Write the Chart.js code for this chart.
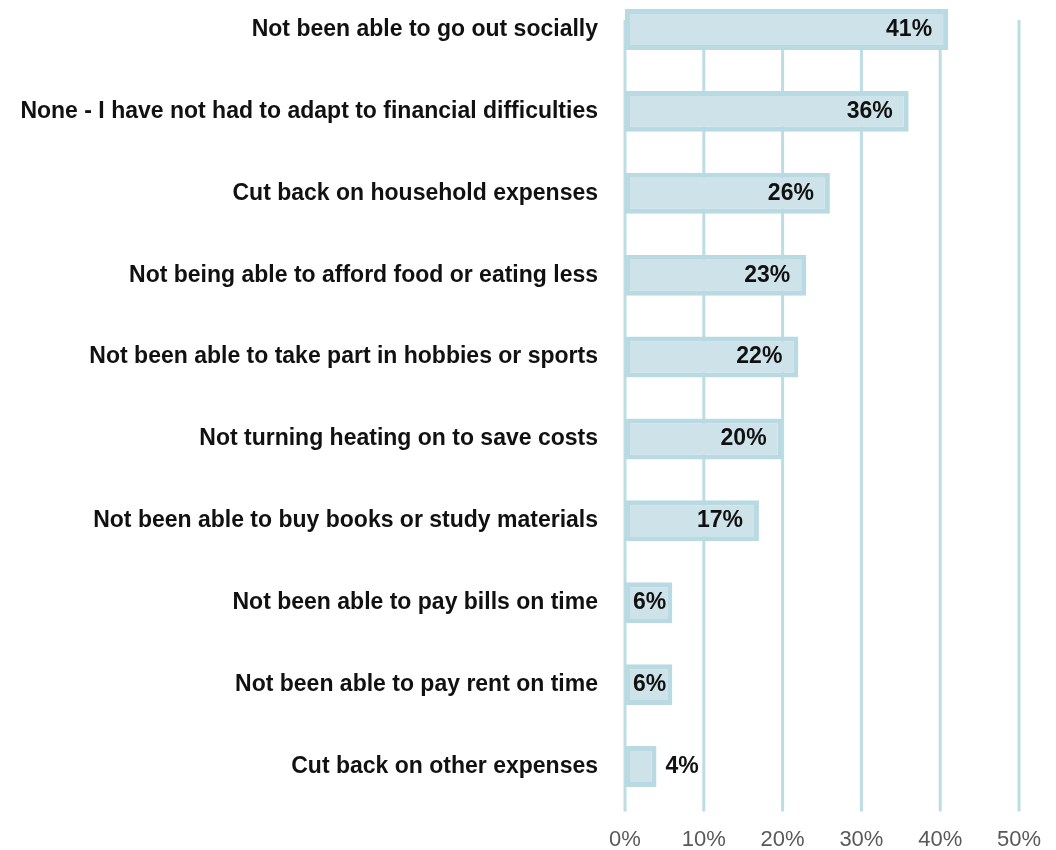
<!DOCTYPE html>
<html>
<head>
<meta charset="utf-8">
<script src="https://cdn.jsdelivr.net/npm/chart.js@4/dist/chart.umd.min.js"></script>
<style>
  html, body { margin: 0; padding: 0; background: #ffffff; overflow: hidden; }
  #wrap { position: absolute; left: 0; top: -12px; width: 1056px; height: 862px; }
</style>
</head>
<body>
<div id="wrap"><canvas id="chart"></canvas></div>
<script>
// Ways students have adapted to financial difficulties (% of respondents)
const categories = [
  'Not been able to go out socially',
  'None - I have not had to adapt to financial difficulties',
  'Cut back on household expenses',
  'Not being able to afford food or eating less',
  'Not been able to take part in hobbies or sports',
  'Not turning heating on to save costs',
  'Not been able to buy books or study materials',
  'Not been able to pay bills on time',
  'Not been able to pay rent on time',
  'Cut back on other expenses'
];
const shares = [41, 36, 26, 23, 22, 20, 17, 6, 6, 4];
const xTicks = [0, 10, 20, 30, 40, 50];

const GRID = '#bcdde4';
const FONT = "'Liberation Sans', Arial, Helvetica, sans-serif";

// Vertical guide lines at every x tick, drawn behind the bars
const guidePlugin = {
  id: 'guides',
  beforeDatasetsDraw(chart) {
    const { ctx, chartArea, scales: { x } } = chart;
    ctx.save();
    ctx.strokeStyle = GRID;
    ctx.lineWidth = 3;
    xTicks.forEach(v => {
      const px = x.getPixelForValue(v);
      ctx.beginPath();
      ctx.moveTo(px, chartArea.top + 31.5);
      ctx.lineTo(px, chartArea.bottom + 4);
      ctx.stroke();
    });
    ctx.restore();
  }
};

// Percentage labels: inside the bar end when it fits, otherwise beside it
const valuePlugin = {
  id: 'values',
  afterDatasetsDraw(chart) {
    const { ctx } = chart;
    const meta = chart.getDatasetMeta(0);
    ctx.save();
    ctx.font = `bold 23px ${FONT}`;
    ctx.fillStyle = '#111111';
    ctx.textBaseline = 'middle';
    meta.data.forEach((bar, i) => {
      const text = shares[i] + '%';
      const w = ctx.measureText(text).width;
      const len = bar.x - bar.base;
      if (len >= w + 32) {
        ctx.textAlign = 'right';
        ctx.fillText(text, bar.x - 16, bar.y);
      } else if (len >= w + 10) {
        ctx.textAlign = 'center';
        ctx.fillText(text, (bar.x + bar.base) / 2 + 1, bar.y);
      } else {
        ctx.textAlign = 'left';
        ctx.fillText(text, bar.x + 9, bar.y);
      }
    });
    ctx.restore();
  }
};

new Chart(document.getElementById('chart'), {
  type: 'bar',
  data: {
    labels: categories,
    datasets: [{
      data: shares,
      backgroundColor: '#cde3e9',
      borderColor: '#b9dae2',
      borderWidth: 5,
      borderSkipped: false,
      barPercentage: 1,
      categoryPercentage: 0.5
    }]
  },
  options: {
    indexAxis: 'y',
    responsive: true,
    maintainAspectRatio: false,
    animation: false,
    layout: { padding: { top: 0.55, right: 37, left: 0, bottom: 0 } },
    plugins: { legend: { display: false }, tooltip: { enabled: false } },
    scales: {
      x: {
        type: 'linear',
        min: 0,
        max: 50,
        grid: { display: false, drawTicks: false },
        border: { display: false },
        afterBuildTicks(scale) { scale.ticks = xTicks.map(v => ({ value: v })); },
        afterFit(scale) { scale.height = 42.55; scale.paddingLeft = 0; scale.paddingRight = 0; },
        ticks: {
          padding: 19,
          color: '#595959',
          font: { family: FONT, size: 22 },
          callback: v => v + '%'
        }
      },
      y: {
        grid: { display: false, drawTicks: false },
        border: { display: false },
        afterFit(scale) { scale.width = 625; scale.paddingTop = 0; scale.paddingBottom = 0; },
        ticks: {
          padding: 27,
          color: '#111111',
          font: { family: FONT, size: 23, weight: 'bold' }
        }
      }
    }
  },
  plugins: [guidePlugin, valuePlugin]
});
</script>
</body>
</html>
